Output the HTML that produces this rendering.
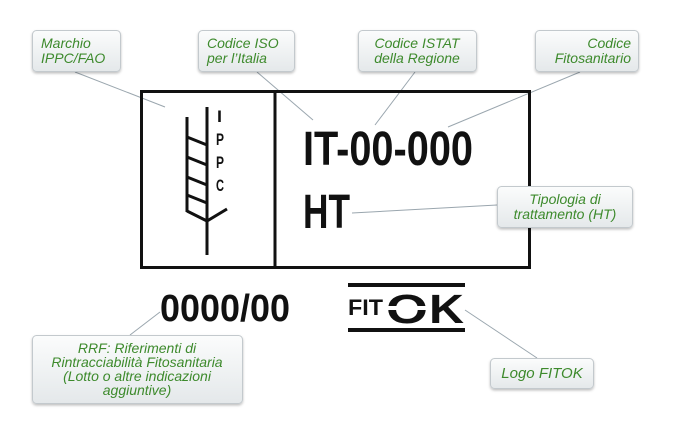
<!DOCTYPE html>
<html><head><meta charset="utf-8"><style>
html,body{margin:0;padding:0;background:#fff;}
svg{display:block;}
.c{font-family:"Liberation Sans",sans-serif;font-style:italic;font-size:14px;fill:#3d8a2c;}
</style></head><body>
<svg width="674" height="448" viewBox="0 0 674 448" xmlns="http://www.w3.org/2000/svg">
<defs>
<linearGradient id="g" x1="0" y1="0" x2="0" y2="1"><stop offset="0" stop-color="#fbfcfc"/><stop offset="1" stop-color="#e4e8ea"/></linearGradient>
<filter id="s" x="-10%" y="-20%" width="120%" height="150%"><feDropShadow dx="0" dy="1.5" stdDeviation="1.2" flood-color="#000" flood-opacity="0.25"/></filter>
</defs>
<g stroke="#9aa6ae" stroke-width="1" fill="none">
<line x1="75" y1="72" x2="165" y2="107"/>
<line x1="257" y1="72" x2="313" y2="120"/>
<line x1="415" y1="72" x2="375" y2="125"/>
<line x1="580" y1="72" x2="448" y2="127"/>
<line x1="497" y1="205" x2="352" y2="213"/>
<line x1="130" y1="335" x2="160" y2="312"/>
<line x1="465" y1="310" x2="537" y2="358"/>
</g>
<rect x="141.5" y="91.5" width="388" height="176" fill="none" stroke="#111" stroke-width="3"/>
<line x1="275" y1="91" x2="275" y2="268" stroke="#111" stroke-width="3"/>
<g stroke="#111" stroke-width="3" fill="none" stroke-linecap="butt">
<line x1="207" y1="107" x2="207" y2="255"/>
<line x1="187" y1="117" x2="187" y2="212"/>
<line x1="187" y1="137" x2="207" y2="145"/>
<line x1="187" y1="157" x2="207" y2="165"/>
<line x1="187" y1="177" x2="207" y2="185"/>
<line x1="187" y1="195" x2="207" y2="203"/>
<polyline points="187,211 207,221 227,209"/>
</g>
<g font-family="Liberation Sans,sans-serif" font-weight="bold" font-size="17" fill="#111">
<text x="217" y="122" textLength="5" lengthAdjust="spacingAndGlyphs">I</text>
<text x="216" y="145" textLength="8" lengthAdjust="spacingAndGlyphs">P</text>
<text x="216" y="168" textLength="8" lengthAdjust="spacingAndGlyphs">P</text>
<text x="216" y="191" textLength="8" lengthAdjust="spacingAndGlyphs">C</text>
</g>
<g font-family="Liberation Sans,sans-serif" font-weight="bold" fill="#111">
<text x="303" y="165" font-size="48" textLength="170" lengthAdjust="spacingAndGlyphs">IT-00-000</text>
<text x="303" y="228" font-size="48" textLength="47" lengthAdjust="spacingAndGlyphs">HT</text>
<text x="160" y="321" font-size="38" textLength="130" lengthAdjust="spacingAndGlyphs">0000/00</text>
</g>
<rect x="348" y="283" width="117" height="4" fill="#111"/>
<rect x="348" y="328" width="117" height="4" fill="#111"/>
<g font-family="Liberation Sans,sans-serif" font-weight="bold" fill="#111">
<text x="348" y="315" font-size="22" textLength="35" lengthAdjust="spacingAndGlyphs">FIT</text>
<text x="386" y="323" font-size="41" textLength="42" lengthAdjust="spacingAndGlyphs">O</text>
<text x="429" y="323" font-size="41" textLength="35" lengthAdjust="spacingAndGlyphs">K</text>
</g>
<rect x="384" y="306" width="46" height="4" fill="#fff"/>
<g filter="url(#s)" fill="url(#g)" stroke="#c3c9cd" stroke-width="1">
<rect x="32.5" y="30.5" width="88" height="41" rx="4"/>
<rect x="198.5" y="30.5" width="96" height="41" rx="4"/>
<rect x="358.5" y="30.5" width="118" height="41" rx="4"/>
<rect x="535.5" y="30.5" width="103" height="41" rx="4"/>
<rect x="497.5" y="186.5" width="135" height="41" rx="4"/>
<rect x="32.5" y="335.5" width="210" height="68" rx="4"/>
<rect x="490.5" y="358.5" width="103" height="30" rx="4"/>
</g>
<text class="c" x="41" y="48">Marchio</text>
<text class="c" x="41" y="63">IPPC/FAO</text>
<text class="c" x="207" y="48">Codice ISO</text>
<text class="c" x="207" y="63">per l’Italia</text>
<g text-anchor="middle">
<text class="c" x="417" y="48">Codice ISTAT</text>
<text class="c" x="417" y="63">della Regione</text>
<text class="c" x="565" y="204">Tipologia di</text>
<text class="c" x="565" y="219">trattamento (HT)</text>
<text class="c" x="137" y="353">RRF: Riferimenti di</text>
<text class="c" x="137" y="367">Rintracciabilità Fitosanitaria</text>
<text class="c" x="137" y="381">(Lotto o altre indicazioni</text>
<text class="c" x="137" y="395">aggiuntive)</text>
<text class="c" x="542" y="378" style="font-size:15px">Logo FITOK</text>
</g>
<g text-anchor="end">
<text class="c" x="631" y="48">Codice</text>
<text class="c" x="631" y="63">Fitosanitario</text>
</g>
</svg>
</body></html>
